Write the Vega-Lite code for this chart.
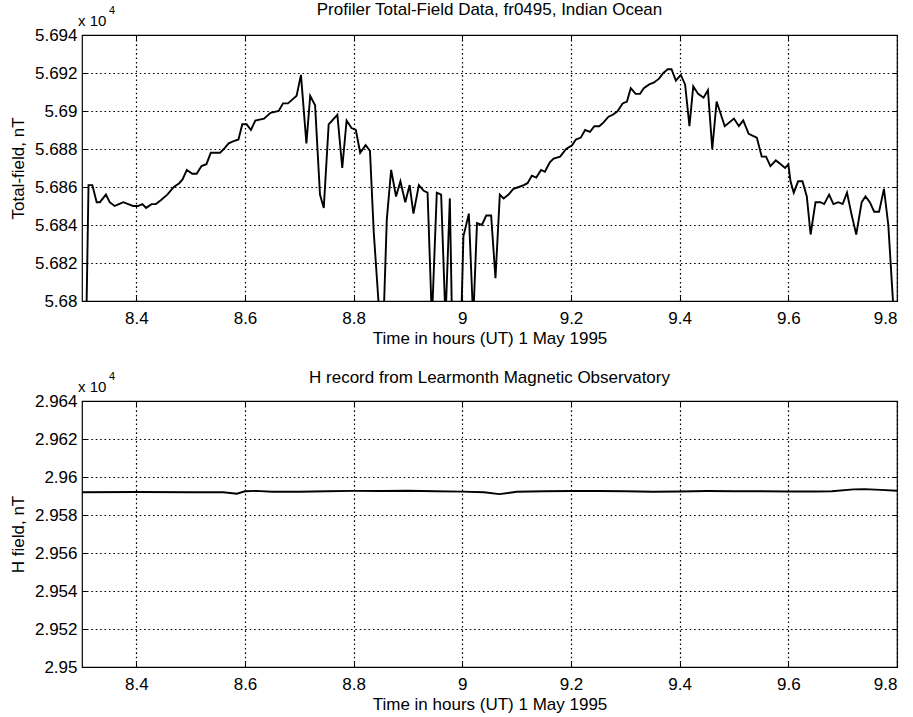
{
  "$schema": "https://vega.github.io/schema/vega-lite/v6.json",
  "background": "white",
  "padding": {"left": 8, "top": 0, "right": 2, "bottom": 2},
  "spacing": 21,
  "config": {
    "font": "Liberation Sans",
    "view": {"stroke": "#000", "strokeWidth": 1.2},
    "axis": {
      "labelFont": "Liberation Sans", "labelFontSize": 17, "labelColor": "#000",
      "titleFont": "Liberation Sans", "titleFontSize": 17, "titleFontWeight": "normal", "titleColor": "#000",
      "tickColor": "#000", "tickWidth": 1, "domain": false,
      "gridColor": "#000", "gridDash": [1.6, 2.8], "gridOpacity": 1, "gridWidth": 1.2
    },
    "title": {"font": "Liberation Sans", "fontSize": 17, "fontWeight": "normal", "color": "#000"}
  },
  "datasets": {
    "field": [
      {"t": 8.308, "v": 5.6790}, {"t": 8.312, "v": 5.6861}, {"t": 8.319, "v": 5.6861}, {"t": 8.327, "v": 5.6852},
      {"t": 8.333, "v": 5.6852}, {"t": 8.344, "v": 5.6856}, {"t": 8.351, "v": 5.6852}, {"t": 8.360, "v": 5.6850},
      {"t": 8.368, "v": 5.6851}, {"t": 8.376, "v": 5.6852}, {"t": 8.385, "v": 5.6851}, {"t": 8.394, "v": 5.6850},
      {"t": 8.403, "v": 5.6850}, {"t": 8.411, "v": 5.6851}, {"t": 8.418, "v": 5.6849}, {"t": 8.428, "v": 5.6851},
      {"t": 8.436, "v": 5.6851}, {"t": 8.445, "v": 5.6853}, {"t": 8.457, "v": 5.6856}, {"t": 8.469, "v": 5.6860},
      {"t": 8.479, "v": 5.6862}, {"t": 8.485, "v": 5.6864}, {"t": 8.493, "v": 5.6869}, {"t": 8.503, "v": 5.6867},
      {"t": 8.511, "v": 5.6867}, {"t": 8.520, "v": 5.6871}, {"t": 8.529, "v": 5.6872}, {"t": 8.537, "v": 5.6878},
      {"t": 8.554, "v": 5.6878}, {"t": 8.561, "v": 5.6880}, {"t": 8.570, "v": 5.6883}, {"t": 8.578, "v": 5.6884},
      {"t": 8.588, "v": 5.6885}, {"t": 8.595, "v": 5.6893}, {"t": 8.603, "v": 5.6893}, {"t": 8.611, "v": 5.6890},
      {"t": 8.619, "v": 5.6895}, {"t": 8.635, "v": 5.6896}, {"t": 8.647, "v": 5.6899}, {"t": 8.662, "v": 5.6900},
      {"t": 8.670, "v": 5.6904}, {"t": 8.679, "v": 5.6904}, {"t": 8.687, "v": 5.6906}, {"t": 8.695, "v": 5.6908},
      {"t": 8.703, "v": 5.6919}, {"t": 8.713, "v": 5.6883}, {"t": 8.720, "v": 5.6908}, {"t": 8.729, "v": 5.6903},
      {"t": 8.738, "v": 5.6856}, {"t": 8.745, "v": 5.6849}, {"t": 8.754, "v": 5.6893}, {"t": 8.770, "v": 5.6898},
      {"t": 8.779, "v": 5.6870}, {"t": 8.787, "v": 5.6895}, {"t": 8.796, "v": 5.6891}, {"t": 8.804, "v": 5.6890},
      {"t": 8.812, "v": 5.6878}, {"t": 8.822, "v": 5.6882}, {"t": 8.830, "v": 5.6879}, {"t": 8.837, "v": 5.6836},
      {"t": 8.848, "v": 5.6790}, {"t": 8.855, "v": 5.6790}, {"t": 8.861, "v": 5.6843}, {"t": 8.869, "v": 5.6869},
      {"t": 8.878, "v": 5.6855}, {"t": 8.886, "v": 5.6863}, {"t": 8.895, "v": 5.6852}, {"t": 8.903, "v": 5.6861},
      {"t": 8.910, "v": 5.6846}, {"t": 8.920, "v": 5.6861}, {"t": 8.929, "v": 5.6858}, {"t": 8.936, "v": 5.6857},
      {"t": 8.944, "v": 5.6790}, {"t": 8.953, "v": 5.6857}, {"t": 8.961, "v": 5.6856}, {"t": 8.969, "v": 5.6790},
      {"t": 8.977, "v": 5.6854}, {"t": 8.981, "v": 5.6790}, {"t": 8.998, "v": 5.6790}, {"t": 9.002, "v": 5.6834},
      {"t": 9.012, "v": 5.6846}, {"t": 9.020, "v": 5.6790}, {"t": 9.027, "v": 5.6841}, {"t": 9.036, "v": 5.6840},
      {"t": 9.044, "v": 5.6845}, {"t": 9.053, "v": 5.6845}, {"t": 9.061, "v": 5.6812}, {"t": 9.069, "v": 5.6856},
      {"t": 9.076, "v": 5.6854}, {"t": 9.085, "v": 5.6856}, {"t": 9.094, "v": 5.6859}, {"t": 9.104, "v": 5.6860},
      {"t": 9.113, "v": 5.6861}, {"t": 9.120, "v": 5.6862}, {"t": 9.128, "v": 5.6866}, {"t": 9.136, "v": 5.6865},
      {"t": 9.145, "v": 5.6869}, {"t": 9.152, "v": 5.6868}, {"t": 9.161, "v": 5.6873}, {"t": 9.168, "v": 5.6875},
      {"t": 9.180, "v": 5.6876}, {"t": 9.191, "v": 5.6880}, {"t": 9.202, "v": 5.6882}, {"t": 9.209, "v": 5.6885},
      {"t": 9.218, "v": 5.6886}, {"t": 9.226, "v": 5.6890}, {"t": 9.235, "v": 5.6889}, {"t": 9.243, "v": 5.6892},
      {"t": 9.252, "v": 5.6892}, {"t": 9.260, "v": 5.6894}, {"t": 9.269, "v": 5.6897}, {"t": 9.277, "v": 5.6898},
      {"t": 9.286, "v": 5.6900}, {"t": 9.295, "v": 5.6904}, {"t": 9.303, "v": 5.6905}, {"t": 9.310, "v": 5.6912},
      {"t": 9.319, "v": 5.6909}, {"t": 9.327, "v": 5.6909}, {"t": 9.334, "v": 5.6912}, {"t": 9.344, "v": 5.6914},
      {"t": 9.353, "v": 5.6915}, {"t": 9.362, "v": 5.6917}, {"t": 9.370, "v": 5.6920}, {"t": 9.378, "v": 5.6922},
      {"t": 9.385, "v": 5.6922}, {"t": 9.393, "v": 5.6916}, {"t": 9.402, "v": 5.6919}, {"t": 9.410, "v": 5.6914},
      {"t": 9.418, "v": 5.6892}, {"t": 9.425, "v": 5.6913}, {"t": 9.434, "v": 5.6909}, {"t": 9.444, "v": 5.6907},
      {"t": 9.452, "v": 5.6911}, {"t": 9.460, "v": 5.6880}, {"t": 9.468, "v": 5.6905}, {"t": 9.483, "v": 5.6892},
      {"t": 9.500, "v": 5.6896}, {"t": 9.509, "v": 5.6892}, {"t": 9.517, "v": 5.6895}, {"t": 9.527, "v": 5.6888},
      {"t": 9.534, "v": 5.6887}, {"t": 9.542, "v": 5.6886}, {"t": 9.551, "v": 5.6876}, {"t": 9.559, "v": 5.6876},
      {"t": 9.567, "v": 5.6871}, {"t": 9.577, "v": 5.6874}, {"t": 9.586, "v": 5.6872}, {"t": 9.594, "v": 5.6870},
      {"t": 9.600, "v": 5.6872}, {"t": 9.604, "v": 5.6863}, {"t": 9.610, "v": 5.6857}, {"t": 9.618, "v": 5.6863},
      {"t": 9.626, "v": 5.6863}, {"t": 9.634, "v": 5.6855}, {"t": 9.641, "v": 5.6835}, {"t": 9.650, "v": 5.6852},
      {"t": 9.659, "v": 5.6852}, {"t": 9.666, "v": 5.6851}, {"t": 9.675, "v": 5.6856}, {"t": 9.683, "v": 5.6851},
      {"t": 9.692, "v": 5.6852}, {"t": 9.700, "v": 5.6851}, {"t": 9.708, "v": 5.6857}, {"t": 9.716, "v": 5.6846},
      {"t": 9.725, "v": 5.6835}, {"t": 9.735, "v": 5.6852}, {"t": 9.742, "v": 5.6855}, {"t": 9.750, "v": 5.6852},
      {"t": 9.758, "v": 5.6847}, {"t": 9.767, "v": 5.6847}, {"t": 9.776, "v": 5.6859}, {"t": 9.784, "v": 5.6840},
      {"t": 9.793, "v": 5.6798}
    ],
    "hobs": [
      {"t": 8.30, "h": 2.95920}, {"t": 8.40, "h": 2.95921}, {"t": 8.50, "h": 2.95920}, {"t": 8.56, "h": 2.95920},
      {"t": 8.585, "h": 2.95912}, {"t": 8.60, "h": 2.95925}, {"t": 8.62, "h": 2.95927}, {"t": 8.65, "h": 2.95922},
      {"t": 8.70, "h": 2.95922}, {"t": 8.75, "h": 2.95925}, {"t": 8.80, "h": 2.95927}, {"t": 8.85, "h": 2.95926},
      {"t": 8.90, "h": 2.95928}, {"t": 8.95, "h": 2.95925}, {"t": 9.00, "h": 2.95923}, {"t": 9.04, "h": 2.95920},
      {"t": 9.068, "h": 2.95910}, {"t": 9.10, "h": 2.95922}, {"t": 9.15, "h": 2.95925}, {"t": 9.20, "h": 2.95926},
      {"t": 9.25, "h": 2.95926}, {"t": 9.30, "h": 2.95925}, {"t": 9.35, "h": 2.95922}, {"t": 9.40, "h": 2.95924},
      {"t": 9.45, "h": 2.95926}, {"t": 9.50, "h": 2.95925}, {"t": 9.55, "h": 2.95925}, {"t": 9.60, "h": 2.95924},
      {"t": 9.65, "h": 2.95924}, {"t": 9.68, "h": 2.95925}, {"t": 9.72, "h": 2.95935}, {"t": 9.74, "h": 2.95936},
      {"t": 9.77, "h": 2.95932}, {"t": 9.80, "h": 2.95928}
    ]
  },
  "vconcat": [
    {
      "width": 815, "height": 266,
      "title": {"text": "Profiler Total-Field Data, fr0495, Indian Ocean", "offset": -14},
      "data": {"name": "field"},
      "layer": [
        {
          "mark": {"type": "line", "clip": true, "color": "#000", "strokeWidth": 1.9},
          "encoding": {
            "x": {"field": "t", "type": "quantitative", "scale": {"domain": [8.3, 9.8], "nice": false, "zero": false},
                  "axis": {"orient": "bottom", "values": [8.4, 8.6, 8.8, 9, 9.2, 9.4, 9.6, 9.8], "format": ".1~f", "tickSize": -5, "labelPadding": 14, "title": "Time in hours (UT) 1 May 1995", "titlePadding": 4, "grid": true}},
            "y": {"field": "v", "type": "quantitative", "scale": {"domain": [5.68, 5.694], "nice": false, "zero": false},
                  "axis": {"orient": "left", "values": [5.68, 5.682, 5.684, 5.686, 5.688, 5.69, 5.692, 5.694], "format": ".3~f", "tickSize": -5, "labelPadding": 10, "title": "Total-field, nT", "titlePadding": 7, "grid": true}}
          }
        },
        {
          "mark": {"type": "line", "strokeOpacity": 0},
          "encoding": {
            "x": {"field": "t", "type": "quantitative", "scale": {"domain": [8.3, 9.8], "nice": false, "zero": false},
                  "axis": {"orient": "top", "values": [8.4, 8.6, 8.8, 9, 9.2, 9.4, 9.6], "labels": false, "tickSize": -5, "title": null, "grid": false}},
            "y": {"field": "v", "type": "quantitative", "scale": {"domain": [5.68, 5.694], "nice": false, "zero": false},
                  "axis": {"orient": "right", "values": [5.682, 5.684, 5.686, 5.688, 5.69, 5.692], "labels": false, "tickSize": -5, "title": null, "grid": false}}
          }
        },
        {
          "data": {"values": [{"lab": "x 10"}]},
          "mark": {"type": "text", "align": "left", "baseline": "alphabetic", "dx": -4, "dy": -9, "fontSize": 15, "font": "Liberation Sans"},
          "encoding": {
            "x": {"datum": 8.3, "type": "quantitative", "axis": null},
            "y": {"datum": 5.694, "type": "quantitative", "axis": null},
            "text": {"field": "lab"}
          }
        },
        {
          "data": {"values": [{"lab": "4"}]},
          "mark": {"type": "text", "align": "left", "baseline": "alphabetic", "dx": 27, "dy": -21, "fontSize": 11, "font": "Liberation Sans"},
          "encoding": {
            "x": {"datum": 8.3, "type": "quantitative", "axis": null},
            "y": {"datum": 5.694, "type": "quantitative", "axis": null},
            "text": {"field": "lab"}
          }
        }
      ],
      "resolve": {"axis": {"x": "independent", "y": "independent"}}
    },
    {
      "width": 815, "height": 266,
      "title": {"text": "H record from Learmonth Magnetic Observatory", "offset": -16},
      "data": {"name": "hobs"},
      "layer": [
        {
          "mark": {"type": "line", "clip": true, "color": "#000", "strokeWidth": 1.9},
          "encoding": {
            "x": {"field": "t", "type": "quantitative", "scale": {"domain": [8.3, 9.8], "nice": false, "zero": false},
                  "axis": {"orient": "bottom", "values": [8.4, 8.6, 8.8, 9, 9.2, 9.4, 9.6, 9.8], "format": ".1~f", "tickSize": -5, "labelPadding": 14, "title": "Time in hours (UT) 1 May 1995", "titlePadding": 4, "grid": true}},
            "y": {"field": "h", "type": "quantitative", "scale": {"domain": [2.95, 2.964], "nice": false, "zero": false},
                  "axis": {"orient": "left", "values": [2.95, 2.952, 2.954, 2.956, 2.958, 2.96, 2.962, 2.964], "format": ".3~f", "tickSize": -5, "labelPadding": 10, "title": "H field, nT", "titlePadding": 7, "grid": true}}
          }
        },
        {
          "mark": {"type": "line", "strokeOpacity": 0},
          "encoding": {
            "x": {"field": "t", "type": "quantitative", "scale": {"domain": [8.3, 9.8], "nice": false, "zero": false},
                  "axis": {"orient": "top", "values": [8.4, 8.6, 8.8, 9, 9.2, 9.4, 9.6], "labels": false, "tickSize": -5, "title": null, "grid": false}},
            "y": {"field": "h", "type": "quantitative", "scale": {"domain": [2.95, 2.964], "nice": false, "zero": false},
                  "axis": {"orient": "right", "values": [2.952, 2.954, 2.956, 2.958, 2.96, 2.962], "labels": false, "tickSize": -5, "title": null, "grid": false}}
          }
        },
        {
          "data": {"values": [{"lab": "x 10"}]},
          "mark": {"type": "text", "align": "left", "baseline": "alphabetic", "dx": -4, "dy": -9, "fontSize": 15, "font": "Liberation Sans"},
          "encoding": {
            "x": {"datum": 8.3, "type": "quantitative", "axis": null},
            "y": {"datum": 2.964, "type": "quantitative", "axis": null},
            "text": {"field": "lab"}
          }
        },
        {
          "data": {"values": [{"lab": "4"}]},
          "mark": {"type": "text", "align": "left", "baseline": "alphabetic", "dx": 27, "dy": -21, "fontSize": 11, "font": "Liberation Sans"},
          "encoding": {
            "x": {"datum": 8.3, "type": "quantitative", "axis": null},
            "y": {"datum": 2.964, "type": "quantitative", "axis": null},
            "text": {"field": "lab"}
          }
        }
      ],
      "resolve": {"axis": {"x": "independent", "y": "independent"}}
    }
  ]
}
